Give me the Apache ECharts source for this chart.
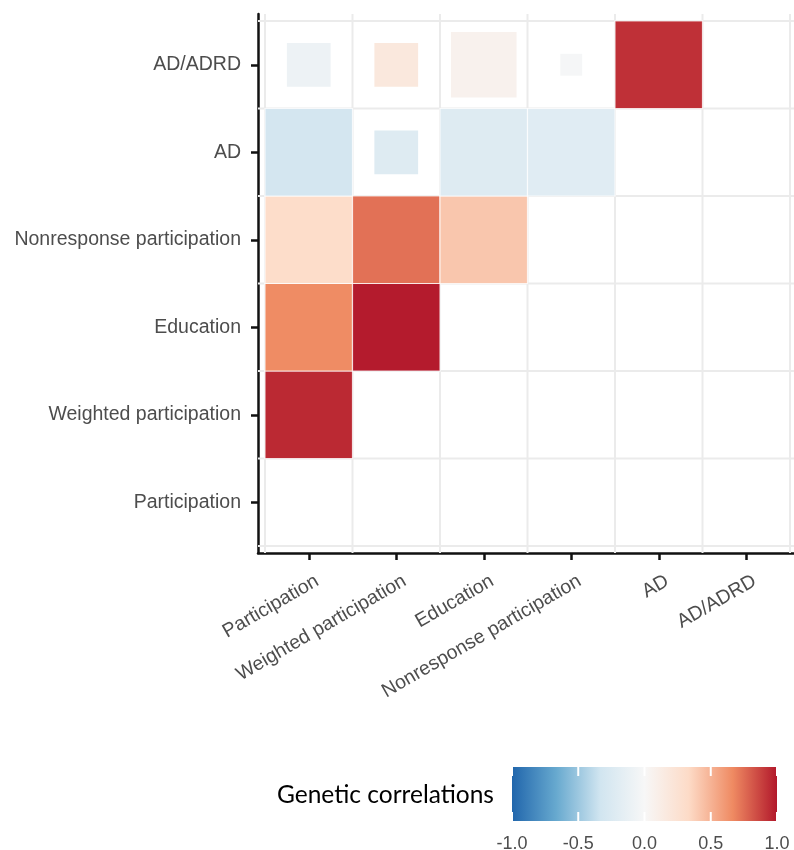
<!DOCTYPE html>
<html>
<head>
<meta charset="utf-8">
<script src="https://cdn.jsdelivr.net/npm/echarts@6/dist/echarts.min.js"></script>
<style>html,body{margin:0;padding:0;background:#fff}#c{width:794px;height:850px}</style>
</head>
<body>
<div id="c"></div>
<script>
// ---- data ----
const categories = ['Participation', 'Weighted participation', 'Education', 'Nonresponse participation', 'AD', 'AD/ADRD'];
// genetic correlations per row (columns start at Participation)
const weightedRow = [0.95];
const educationRow = [0.66, 0.99];
const nonresponseRow = [0.31, 0.74, 0.42];
const adRow = [-0.31, -0.22, -0.22, -0.20];
const adAdrdRow = [-0.09, 0.18, 0.07, -0.02, 0.93];
// relative square size (1 = full tile)
const adScale = [1, 0.5, 1, 1];
const adAdrdScale = [0.5, 0.5, 0.75, 0.25, 1];
const legendTicks = [-1, -0.5, 0, 0.5, 1];
const palette = ['#2166AC', '#67A9CF', '#D1E5F0', '#F7F7F7', '#FDDBC7', '#EF8A62', '#B2182B'];

// ---- build ----
const rows = [
  [1, weightedRow, null],
  [2, educationRow, null],
  [3, nonresponseRow, null],
  [4, adRow, adScale],
  [5, adAdrdRow, adAdrdScale]
];
const cells = [];
rows.forEach(([y, vals, scl]) => {
  vals.forEach((v, x) => cells.push([x, y, v, scl ? scl[x] : 1]));
});
const bounds = [];
for (let i = 0; i <= categories.length; i++) bounds.push([i - 0.5, i - 0.5]);
const catIdx = categories.map((_, i) => i);

const labelFont = { color: '#4D4D4D', fontSize: 19.5, fontFamily: '"Liberation Sans", Arial, Helvetica, sans-serif' };
const axisLineStyle = { color: '#111', width: 2.5 };

const chart = echarts.init(document.getElementById('c'), null, { renderer: 'canvas' });
chart.setOption({
  animation: false,
  backgroundColor: '#fff',
  title: {
    text: 'Genetic correlations',
    left: 277, top: 783, padding: 0,
    textStyle: { fontFamily: 'Lato, "Open Sans", sans-serif', fontSize: 24.5, fontWeight: 'normal', color: '#000' }
  },
  grid: [
    { left: 258, right: -3, top: 14, bottom: 297, outerBoundsMode: 'none' },
    { left: 512, width: 265, top: 767, height: 54, outerBoundsMode: 'none' }
  ],
  xAxis: [
    {
      type: 'value', gridIndex: 0, min: -0.58, max: 5.58,
      splitLine: { show: false },
      axisLine: { show: true, onZero: false, lineStyle: axisLineStyle },
      axisTick: { show: true, customValues: catIdx, length: 7, lineStyle: axisLineStyle },
      axisLabel: Object.assign({ customValues: catIdx, rotate: 30, margin: 12, verticalAlign: 'top', padding: [7, 0, 0, 0], formatter: v => categories[v] }, labelFont)
    },
    {
      type: 'value', gridIndex: 1, min: -1, max: 1, interval: 0.5,
      splitLine: { show: false }, axisLine: { show: false }, axisTick: { show: false },
      axisLabel: { color: '#4D4D4D', fontSize: 18, margin: 14, fontFamily: '"Liberation Sans", Arial, sans-serif', formatter: v => v.toFixed(1) }
    }
  ],
  yAxis: [
    {
      type: 'value', gridIndex: 0, min: -0.58, max: 5.58,
      splitLine: { show: false },
      axisLine: { show: true, onZero: false, lineStyle: axisLineStyle },
      axisTick: { show: true, customValues: catIdx, length: 7, lineStyle: axisLineStyle },
      axisLabel: Object.assign({ customValues: catIdx, margin: 17, padding: [4, 0, 0, 0], formatter: v => categories[v] }, labelFont)
    },
    { type: 'value', gridIndex: 1, min: 0, max: 1, show: false }
  ],
  visualMap: {
    show: false, type: 'continuous', min: -1, max: 1, dimension: 2, seriesIndex: [1],
    inRange: { color: palette }
  },
  series: [
    {
      type: 'custom', xAxisIndex: 0, yAxisIndex: 0, z: 1, silent: true,
      data: bounds,
      renderItem: function (params, api) {
        const b = api.value(0);
        const cs = params.coordSys;
        const px = api.coord([b, 0])[0];
        const py = api.coord([0, b])[1];
        return {
          type: 'group', children: [
            { type: 'line', shape: { x1: px, y1: cs.y, x2: px, y2: cs.y + cs.height }, style: { stroke: '#EBEBEB', lineWidth: 2 } },
            { type: 'line', shape: { x1: cs.x, y1: py, x2: cs.x + cs.width, y2: py }, style: { stroke: '#EBEBEB', lineWidth: 2 } }
          ]
        };
      }
    },
    {
      type: 'custom', xAxisIndex: 0, yAxisIndex: 0, z: 2, silent: true,
      data: cells,
      renderItem: function (params, api) {
        const c = api.coord([api.value(0), api.value(1)]);
        const sz = api.size([1, 1]);
        const s = api.value(3);
        const w = sz[0] * s, h = sz[1] * s;
        const full = s >= 1;
        return {
          type: 'rect',
          shape: { x: c[0] - w / 2, y: c[1] - h / 2, width: w, height: h },
          style: full ? { fill: api.visual('color'), stroke: 'rgba(255,255,255,0.75)', lineWidth: 1.2 }
                      : { fill: api.visual('color') }
        };
      }
    },
    {
      type: 'custom', xAxisIndex: 1, yAxisIndex: 1, z: 2, silent: true,
      data: [[0, 0.5]],
      renderItem: function (params, api) {
        const cs = params.coordSys;
        return {
          type: 'rect',
          shape: { x: cs.x, y: cs.y, width: cs.width, height: cs.height },
          style: {
            fill: new echarts.graphic.LinearGradient(0, 0, 1, 0,
              palette.map((col, i) => ({ offset: i / (palette.length - 1), color: col })))
          }
        };
      }
    },
    {
      type: 'custom', xAxisIndex: 1, yAxisIndex: 1, z: 3, silent: true,
      data: legendTicks.map(v => [v, 0.5]),
      renderItem: function (params, api) {
        const cs = params.coordSys;
        const px = api.coord([api.value(0), 0.5])[0];
        const tl = 9;
        return {
          type: 'group', children: [
            { type: 'line', shape: { x1: px, y1: cs.y, x2: px, y2: cs.y + tl }, style: { stroke: '#fff', lineWidth: 2 } },
            { type: 'line', shape: { x1: px, y1: cs.y + cs.height - tl, x2: px, y2: cs.y + cs.height }, style: { stroke: '#fff', lineWidth: 2 } }
          ]
        };
      }
    }
  ]
});
</script>
</body>
</html>
